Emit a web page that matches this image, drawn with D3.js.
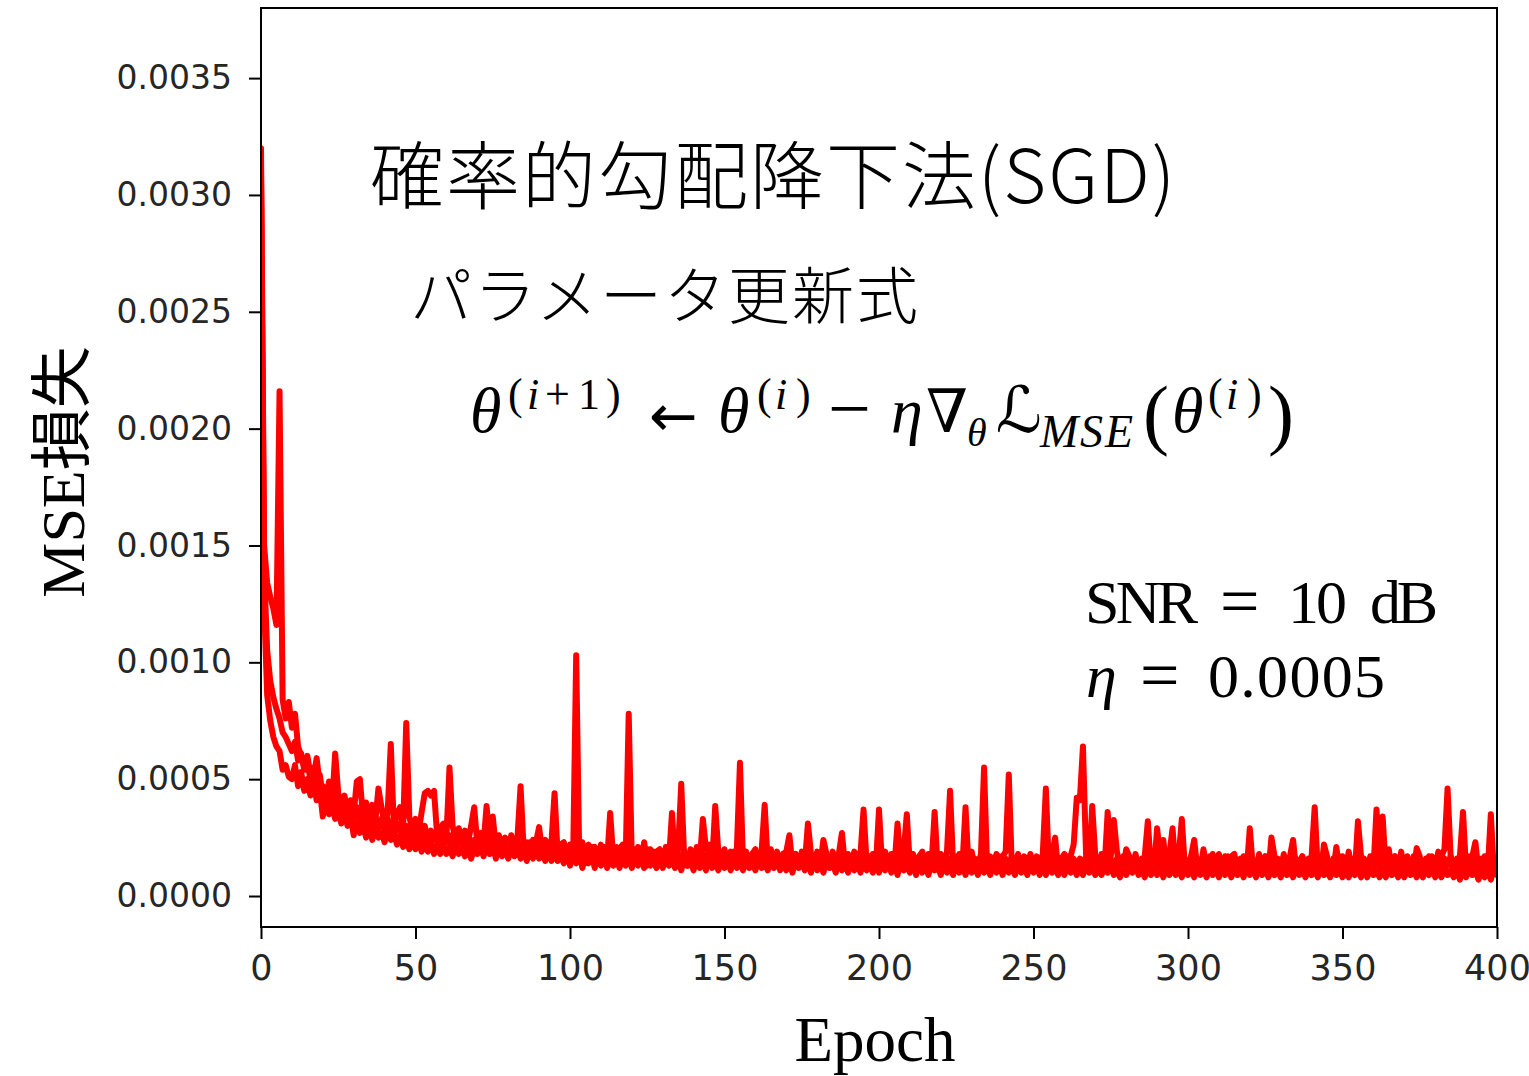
<!DOCTYPE html>
<html><head><meta charset="utf-8">
<script src="https://cdn.jsdelivr.net/npm/d3@7"></script>
<style>body{margin:0;background:#fff}svg{display:block}</style>
</head><body>
<svg id="c" width="1529" height="1076"></svg>
<script>
// Values in units of 1e-4 (MSE loss), one per epoch 0..400
const runA = [
32.0,15.0,13.4,12.8,12.3,11.6,21.6,8.4,7.6,8.3,
7.2,7.8,6.4,6.0,5.5,6.0,5.2,5.0,5.9,4.8,
4.7,4.0,4.9,3.9,6.1,4.4,3.8,4.3,3.6,4.1,
3.5,4.9,5.0,3.4,4.0,3.3,3.9,3.2,4.6,3.8,
3.0,3.6,6.5,2.9,3.5,3.8,2.9,7.4,3.4,2.8,
3.3,2.7,3.6,4.4,4.5,4.3,4.5,2.6,2.9,3.1,
2.5,5.5,3.0,2.4,2.9,2.3,2.8,2.3,3.0,3.8,
2.2,2.7,2.2,3.85,2.3,3.4,2.1,2.6,2.1,2.5,
2.0,2.6,2.0,2.5,4.7,2.0,2.3,1.9,2.4,2.3,
2.95,1.9,2.4,1.8,2.3,4.4,1.8,2.2,2.3,1.8,
2.2,1.5,10.3,1.6,2.3,1.4,2.2,1.7,2.1,1.4,
2.2,1.6,1.5,3.55,1.6,1.4,2.0,2.2,1.5,7.8,
1.6,1.4,2.1,1.5,2.3,1.3,2.0,1.4,1.9,2.0,
1.4,2.1,1.5,3.55,1.4,2.0,4.8,1.5,1.3,2.0,
1.4,2.1,1.5,3.3,2.0,2.2,1.4,3.85,1.9,1.3,
2.0,1.4,1.9,1.3,2.0,5.7,1.4,1.9,1.3,1.8,
2.0,1.3,1.9,3.9,1.4,2.0,1.3,1.9,1.3,1.8,
1.9,2.6,1.3,1.8,1.3,1.9,1.4,3.1,1.8,1.3,
1.9,1.3,2.4,1.8,1.3,1.9,1.4,1.8,2.7,1.3,
1.8,1.3,1.9,1.3,1.8,3.7,1.4,1.2,1.8,1.3,
3.7,1.3,1.9,1.2,1.8,1.3,3.1,1.3,1.9,3.5,
1.3,1.8,1.2,1.7,1.9,1.2,1.8,1.3,3.6,1.2,
1.8,1.2,1.9,4.5,1.3,1.2,1.8,1.3,3.8,1.2,
1.9,1.2,1.3,1.8,5.5,1.2,1.7,1.2,1.8,1.3,
1.7,1.9,5.2,1.2,1.3,1.8,1.2,1.7,1.2,1.8,
1.2,1.7,1.2,1.8,4.6,1.2,1.7,2.5,1.1,1.6,
1.8,1.1,1.7,2.2,4.2,4.1,6.4,1.8,1.2,3.85,
1.7,1.1,1.8,1.2,3.6,1.7,3.25,1.9,1.2,1.1,
2.0,1.7,1.1,1.8,1.2,1.1,1.7,3.2,1.2,1.1,
2.9,1.7,2.4,1.2,1.8,2.9,1.1,1.7,3.3,1.2,
1.1,1.7,2.4,1.2,1.1,2.0,1.2,1.1,1.8,1.0,
1.8,1.1,1.7,1.0,1.7,1.8,1.1,1.0,1.7,1.1,
2.9,1.2,1.0,1.8,1.1,1.7,1.0,2.5,1.7,1.1,
1.0,1.8,1.1,1.7,2.4,1.1,1.0,1.7,1.1,1.0,
1.7,3.8,1.1,1.0,2.2,1.7,1.1,1.0,2.1,1.1,
1.7,1.0,1.9,1.1,1.0,3.2,1.7,1.1,1.0,1.7,
1.1,3.7,1.7,3.4,1.1,2.0,1.0,1.7,1.1,1.9,
1.0,1.7,1.1,1.0,2.05,1.7,1.1,1.0,1.7,1.1,
1.0,1.9,1.7,2.0,4.6,1.7,1.1,1.0,1.7,3.6,
1.1,1.0,1.7,2.3,1.1,1.0,1.7,1.1,3.5,1.0,
1.5];
const runB = [
30.5,12.5,8.6,7.5,6.8,6.4,6.2,5.4,5.6,5.1,
5.0,5.6,4.7,5.3,4.5,5.0,4.3,4.9,4.1,4.6,
3.4,4.1,3.5,3.9,3.3,3.8,3.1,3.6,3.0,3.5,
2.6,3.2,2.7,3.1,2.5,3.0,2.4,2.9,2.5,2.7,
2.3,2.8,2.4,2.7,2.2,2.6,2.1,2.6,2.0,2.4,
2.0,2.4,1.9,2.3,1.9,2.3,1.8,2.2,1.8,2.2,
1.8,2.1,1.7,2.2,1.8,2.0,1.7,2.1,1.6,2.0,
1.8,2.2,1.7,2.1,1.8,2.2,1.6,2.1,1.7,2.0,
1.6,2.1,1.7,2.0,1.6,2.1,1.5,2.0,1.6,1.9,
1.6,1.9,1.5,2.0,1.5,1.9,1.5,1.8,1.4,1.9,
1.3,1.8,1.4,1.9,1.2,1.7,1.4,1.8,1.2,1.7,
1.3,1.8,1.2,1.6,1.3,1.8,1.2,1.6,1.3,1.7,
1.2,1.7,1.3,1.6,1.2,1.7,1.3,1.5,1.2,1.7,
1.2,1.6,1.3,1.5,1.2,1.7,1.1,1.6,1.3,1.5,
1.1,1.6,1.2,1.5,1.1,1.7,1.2,1.5,1.1,1.6,
1.2,1.5,1.1,1.6,1.2,1.5,1.1,1.6,1.2,1.4,
1.1,1.6,1.2,1.4,1.1,1.5,1.2,1.6,1.1,1.4,
1.1,1.5,1.0,1.6,1.2,1.4,1.1,1.5,1.0,1.6,
1.1,1.4,1.0,1.5,1.2,1.4,1.0,1.5,1.1,1.4,
1.0,1.5,1.1,1.4,1.0,1.5,1.1,1.4,1.0,1.5,
1.0,1.4,1.1,1.5,1.0,1.4,0.9,1.5,1.1,1.3,
1.0,1.4,0.9,1.5,1.0,1.3,0.9,1.4,1.1,1.3,
0.9,1.4,1.0,1.3,0.9,1.5,1.0,1.3,0.9,1.4,
1.0,1.3,0.9,1.4,1.0,1.3,0.9,1.4,1.0,1.3,
0.9,1.4,1.0,1.3,0.9,1.4,1.0,1.2,0.9,1.4,
1.0,1.3,0.9,1.4,0.9,1.3,1.0,1.2,0.9,1.4,
0.9,1.3,1.0,1.2,0.9,1.4,0.9,1.3,1.0,1.2,
0.9,1.3,0.9,1.2,1.0,1.3,0.9,1.2,0.8,1.3,
0.9,1.2,1.0,1.3,0.9,1.2,0.8,1.3,0.9,1.2,
0.9,1.3,0.8,1.2,0.9,1.3,0.9,1.2,0.8,1.3,
0.9,1.2,0.8,1.3,0.9,1.2,0.8,1.2,0.9,1.3,
0.8,1.2,0.9,1.3,0.8,1.2,0.9,1.1,0.8,1.3,
0.9,1.2,0.8,1.2,0.9,1.3,0.8,1.1,0.9,1.2,
0.8,1.2,0.9,1.1,0.8,1.3,0.9,1.2,0.8,1.1,
0.9,1.2,0.8,1.2,0.9,1.1,0.8,1.2,0.9,1.1,
0.8,1.2,0.8,1.1,0.9,1.2,0.8,1.1,0.8,1.2,
0.9,1.1,0.8,1.2,0.8,1.1,0.9,1.2,0.8,1.1,
0.8,1.2,0.9,1.1,0.8,1.2,0.8,1.1,0.9,1.2,
0.8,1.1,0.8,1.2,0.9,1.1,0.8,1.2,0.7,1.1,
0.8,1.2,0.9,1.1,0.7,1.2,0.8,1.1,0.7,1.2,
0.9];
const runC = [
31.0,14.0,10.5,9.2,8.5,8.0,7.6,7.0,6.8,6.5,
6.2,6.6,5.8,6.1,5.4,5.7,5.0,5.5,4.8,5.2,
4.3,4.6,4.1,4.5,3.9,4.3,3.7,4.2,3.5,3.9,
3.4,3.8,3.2,3.7,3.1,3.6,3.0,3.4,2.9,3.3,
2.8,3.3,2.7,3.2,2.8,3.1,2.6,3.0,2.5,3.1,
2.5,2.9,2.4,3.0,2.3,2.8,2.4,2.7,2.2,2.8,
2.3,2.6,2.1,2.7,2.2,2.5,2.0,2.6,2.1,2.4,
2.0,2.5,2.1,2.4,1.9,2.5,2.0,2.3,1.9,2.4,
1.9,2.3,2.0,2.4,1.8,2.2,1.9,2.3,1.8,2.2,
1.8,2.2,1.7,2.3,1.8,2.1,1.7,2.2,1.8,2.1,
1.7,2.1,1.6,2.2,1.7,2.0,1.6,2.1,1.7,2.0,
1.6,2.1,1.7,2.0,1.6,2.1,1.5,2.0,1.6,1.9,
1.5,2.0,1.6,1.9,1.5,2.0,1.6,1.9,1.5,1.9,
1.5,1.9,1.6,2.0,1.5,1.8,1.6,1.9,1.5,1.8,
1.4,1.9,1.5,1.8,1.6,1.9,1.4,1.8,1.5,1.9,
1.4,1.8,1.5,1.9,1.4,1.8,1.5,1.7,1.4,1.8,
1.5,1.8,1.4,1.7,1.5,1.8,1.4,1.7,1.5,1.8,
1.4,1.7,1.5,1.8,1.4,1.7,1.3,1.8,1.4,1.7,
1.3,1.8,1.4,1.7,1.3,1.7,1.4,1.8,1.3,1.7,
1.4,1.7,1.3,1.8,1.4,1.6,1.3,1.7,1.4,1.6,
1.3,1.7,1.4,1.6,1.3,1.7,1.3,1.6,1.4,1.7,
1.3,1.6,1.4,1.7,1.3,1.6,1.2,1.7,1.3,1.6,
1.3,1.7,1.2,1.6,1.3,1.7,1.2,1.6,1.3,1.7,
1.2,1.6,1.3,1.7,1.2,1.6,1.3,1.6,1.2,1.7,
1.3,1.6,1.2,1.7,1.3,1.6,1.2,1.6,1.3,1.7,
1.2,1.6,1.3,1.7,1.2,1.6,1.2,1.7,1.3,1.6,
1.2,1.7,1.3,1.6,1.2,1.6,1.3,1.7,1.2,1.6,
1.2,1.6,1.3,1.7,1.2,1.6,1.2,1.6,1.3,1.7,
1.2,1.6,1.2,1.7,1.3,1.6,1.2,1.6,1.2,1.7,
1.3,1.6,1.2,1.6,1.2,1.7,1.3,1.6,1.2,1.6,
1.2,1.7,1.2,1.6,1.3,1.6,1.2,1.7,1.2,1.6,
1.3,1.6,1.2,1.7,1.2,1.6,1.2,1.6,1.3,1.7,
1.2,1.6,1.2,1.6,1.3,1.7,1.2,1.6,1.2,1.6,
1.3,1.7,1.2,1.6,1.2,1.6,1.3,1.7,1.2,1.6,
1.2,1.6,1.3,1.7,1.2,1.6,1.2,1.6,1.3,1.7,
1.2,1.6,1.2,1.6,1.3,1.7,1.2,1.6,1.2,1.6,
1.3,1.7,1.2,1.6,1.2,1.6,1.3,1.7,1.2,1.6,
1.2,1.6,1.3,1.7,1.2,1.6,1.2,1.6,1.3,1.7,
1.2,1.6,1.2,1.6,1.3,1.7,1.2,1.6,1.2,1.6,
1.3,1.7,1.2,1.6,1.2,1.6,1.3,1.7,1.2,1.6,
1.3];
const yTickValues = [0,5,10,15,20,25,30,35];          // ×1e-4
const xTickValues = [0,50,100,150,200,250,300,350,400];
const xLabel = "Epoch";
const yLabel = "MSE損失";
const title = "確率的勾配降下法(SGD)";
const subtitle = "パラメータ更新式";

const svg = d3.select("#c");
const M = {l:261, r:1497, t:8, b:927};
const x = d3.scaleLinear().domain([0,400]).range([M.l, M.r]);
const y = d3.scaleLinear().domain([-1.326, 38.0]).range([M.b, M.t]);

svg.append("defs").append("clipPath").attr("id","clip")
  .append("rect").attr("x",M.l).attr("y",M.t).attr("width",M.r-M.l).attr("height",M.b-M.t);

const line = d3.line().x((d,i)=>x(i)).y(d=>y(d));
const g = svg.append("g").attr("clip-path","url(#clip)");
[runB, runC, runA].forEach(s=>{
  g.append("path").datum(s).attr("d",line)
   .attr("fill","none").attr("stroke","#ff0000").attr("stroke-width",6)
   .attr("stroke-linejoin","round").attr("stroke-linecap","round");
});

// axes
const yAxis = d3.axisLeft(y).tickValues(yTickValues).tickSize(12).tickPadding(17)
  .tickFormat(d=>(d/1e4).toFixed(4));
const ya = svg.append("g").attr("transform",`translate(${M.l},0)`).call(yAxis);
const xAxis = d3.axisBottom(x).tickValues(xTickValues).tickSize(12).tickPadding(16);
const xa = svg.append("g").attr("transform",`translate(0,${M.b})`).call(xAxis);
[ya,xa].forEach(a=>{
  a.select(".domain").remove();
  a.selectAll(".tick line").attr("stroke","#000").attr("stroke-width",2);
  a.selectAll(".tick text").attr("fill","#262626").style("font-family","DejaVu Sans");
});
ya.selectAll(".tick text").style("font-size","33px");
xa.selectAll(".tick text").style("font-size","35px");

svg.append("rect").attr("x",M.l).attr("y",M.t).attr("width",M.r-M.l).attr("height",M.b-M.t)
  .attr("fill","none").attr("stroke","#000").attr("stroke-width",2);

// axis labels
svg.append("text").attr("x",875).attr("y",1061).attr("text-anchor","middle")
  .style("font-family","Liberation Serif, serif").style("font-size","63px").text(xLabel);
svg.append("text").attr("transform","translate(84,472) rotate(-90)").attr("text-anchor","middle")
  .style("font-family","Liberation Serif, Noto Sans CJK JP, serif").style("font-size","62px").text(yLabel);

// title texts
svg.append("text").attr("x",370).attr("y",203)
  .style("font-family","Noto Sans CJK JP, sans-serif").style("font-weight","300").style("font-size","74px")
  .attr("textLength",805).attr("lengthAdjust","spacing").text(title);
svg.append("text").attr("x",410).attr("y",319)
  .style("font-family","Noto Sans CJK JP, sans-serif").style("font-weight","300").style("font-size","62px")
  .attr("textLength",508).attr("lengthAdjust","spacing").text(subtitle);

// formula
const mathFont = "Liberation Serif, DejaVu Serif, DejaVu Sans, serif";
const pieces = [
  {t:"θ",x:470,y:432,s:64,i:1},
  {t:"(",x:508,y:409,s:44},{t:"i",x:527,y:409,s:44,i:1},{t:"+",x:545,y:409,s:44},{t:"1",x:578,y:409,s:44},{t:")",x:606,y:409,s:44},
  {t:"←",x:649,y:436,s:58,f:"DejaVu Sans"},
  {t:"θ",x:718,y:432,s:64,i:1},
  {t:"(",x:757,y:409,s:44},{t:"i",x:775,y:409,s:44,i:1},{t:")",x:796,y:409,s:44},
  {t:"−",x:828,y:434,s:76},
  {t:"η",x:891,y:432,s:64,i:1},
  {t:"∇",x:926,y:432,s:60},
  {t:"θ",x:967,y:446,s:40,i:1},
  {t:"ℒ",x:996,y:432,s:64,i:1},
  {t:"MSE",x:1040,y:447,s:46,i:1,w:93},
  {t:"(",x:1143,y:440,s:78},
  {t:"θ",x:1172,y:432,s:64,i:1},
  {t:"(",x:1208,y:409,s:44},{t:"i",x:1226,y:409,s:44,i:1},{t:")",x:1247,y:409,s:44},
  {t:")",x:1268,y:440,s:78}
];
pieces.forEach(p=>{
  const tx = svg.append("text").attr("x",p.x).attr("y",p.y)
    .style("font-family",p.f||mathFont).style("font-size",p.s+"px")
    .style("font-style",p.i?"italic":"normal").text(p.t);
  if(p.w) tx.attr("textLength",p.w).attr("lengthAdjust","spacing");
});

// SNR / eta annotations
const notes = [
  {t:"SNR",x:1085,y:623,w:113},{t:"=",x:1220,y:625,s:70},{t:"10",x:1288,y:623,w:59},{t:"dB",x:1370,y:623,w:68},
  {t:"η",x:1086,y:697,i:1},{t:"=",x:1140,y:699,s:70},{t:"0.0005",x:1208,y:697,w:177}
];
notes.forEach(p=>{
  const tx = svg.append("text").attr("x",p.x).attr("y",p.y)
    .style("font-family",mathFont).style("font-size",(p.s||62)+"px")
    .style("font-style",p.i?"italic":"normal").text(p.t);
  if(p.w) tx.attr("textLength",p.w).attr("lengthAdjust","spacing");
});
</script>
</body></html>
